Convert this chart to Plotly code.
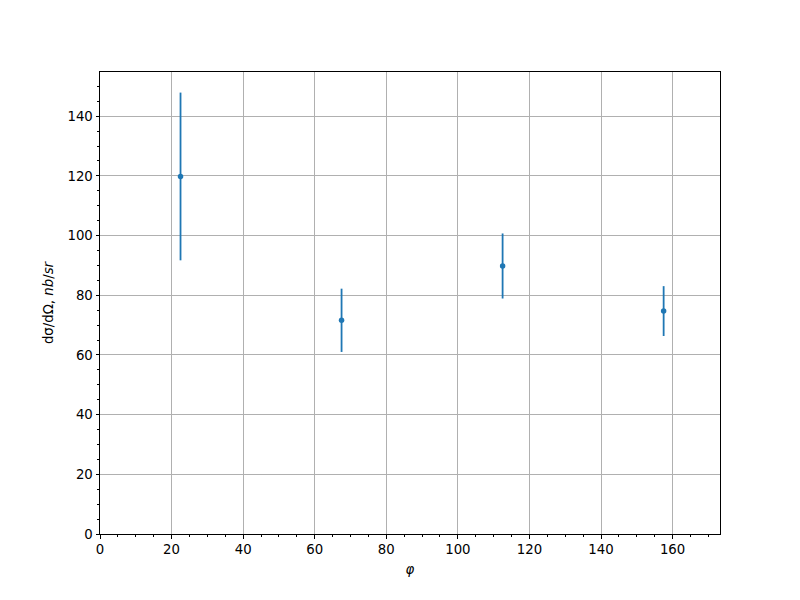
import plotly.graph_objects as go

phi = [22.5, 67.5, 112.5, 157.5]
dsigma = [119.8, 71.6, 89.8, 74.7]
err = [28.1, 10.6, 10.9, 8.35]

x_ticks = [0, 20, 40, 60, 80, 100, 120, 140, 160]
y_ticks = [0, 20, 40, 60, 80, 100, 120, 140]

color = "#1f77b4"
font = dict(family="DejaVu Sans", size=13.3, color="black")

fig = go.Figure()
fig.add_trace(go.Scatter(
    x=phi, y=dsigma, mode="markers",
    marker=dict(color=color, size=5.5),
    error_y=dict(type="data", array=err, visible=True, color=color,
                 thickness=1.8, width=0),
    showlegend=False,
))

axis_common = dict(
    showline=True, linecolor="black", linewidth=1, mirror=True,
    showgrid=True, gridcolor="#b0b0b0", gridwidth=1,
    ticks="outside", ticklen=3.5, tickwidth=1, tickcolor="black",
    zeroline=False, tickfont=font, automargin=False,
)

fig.update_xaxes(
    range=[0, 173.25], tickvals=x_ticks,
    minor=dict(dtick=5, ticks="outside", ticklen=2, tickcolor="black", showgrid=False),
    title=dict(text="<i>φ</i>", font=font, standoff=8),
    **axis_common,
)
fig.update_yaxes(
    range=[0, 154.8], tickvals=y_ticks,
    minor=dict(dtick=5, ticks="outside", ticklen=2, tickcolor="black", showgrid=False),
    title=dict(text="dσ/dΩ, <i>nb</i>/<i>sr</i>", font=font, standoff=10),
    **axis_common,
)

fig.update_layout(
    width=800, height=600,
    margin=dict(l=100, r=80, t=72, b=66, autoexpand=False),
    plot_bgcolor="white", paper_bgcolor="white",
    font=font,
)

fig.write_html("out.html", config={"displayModeBar": False},
               post_script="document.body.style.margin='0';")
